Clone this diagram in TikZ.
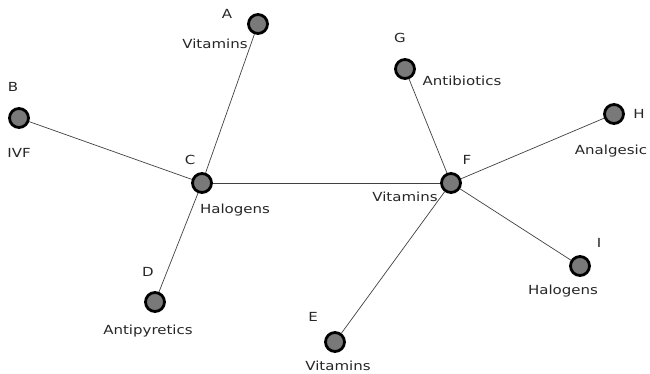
\documentclass[tikz,border=0pt]{standalone}
\usepackage{fontspec}
\setmainfont{DejaVu Sans}[FakeStretch=1.2]
\begin{document}
\begin{tikzpicture}[x=1pt,y=-1pt,
  vert/.style={circle,draw=black,line width=2.8pt,fill=gray!95!black,minimum size=19pt,inner sep=0pt},
  lbl/.style={font=\fontsize{12.5}{14}\selectfont,inner sep=0pt,text=black!85},
  edge/.style={draw=black!75,line width=0.7pt}]
\useasboundingbox (0,0) rectangle (650,373);
\node[vert] (A) at (258,24) {};
\node[vert] (B) at (19,118) {};
\node[vert] (C) at (202,183) {};
\node[vert] (D) at (155,302) {};
\node[vert] (E) at (335,342) {};
\node[vert] (F) at (451,183) {};
\node[vert] (G) at (405,69) {};
\node[vert] (H) at (614,114) {};
\node[vert] (I) at (580,266) {};
\node[lbl] (lA) at (227,14) {A};
\node[lbl] (tA) at (215,44) {Vitamins};
\node[lbl] (lB) at (13,87) {B};
\node[lbl] (tB) at (19,153) {IVF};
\node[lbl] (lC) at (190,160) {C};
\node[lbl] (tC) at (235,210) {Halogens};
\node[lbl] (lD) at (148,272) {D};
\node[lbl] (tD) at (148,331) {Antipyretics};
\node[lbl] (lE) at (313,317) {E};
\node[lbl] (tE) at (338,366) {Vitamins};
\node[lbl] (lF) at (467,160) {F};
\node[lbl] (tF) at (405,197) {Vitamins};
\node[lbl] (lG) at (400,38) {G};
\node[lbl] (tG) at (462,81) {Antibiotics};
\node[lbl] (lH) at (639,114) {H};
\node[lbl] (tH) at (611,151) {Analgesic};
\node[lbl] (lI) at (599,243) {I};
\node[lbl] (tI) at (563,291) {Halogens};
\path[edge] (A) -- (C);
\path[edge] (B) -- (C);
\path[edge] (C) -- (D);
\path[edge] (C) -- (F);
\path[edge] (F) -- (G);
\path[edge] (F) -- (H);
\path[edge] (F) -- (I);
\path[edge] (F) -- (E);
\end{tikzpicture}
\end{document}
